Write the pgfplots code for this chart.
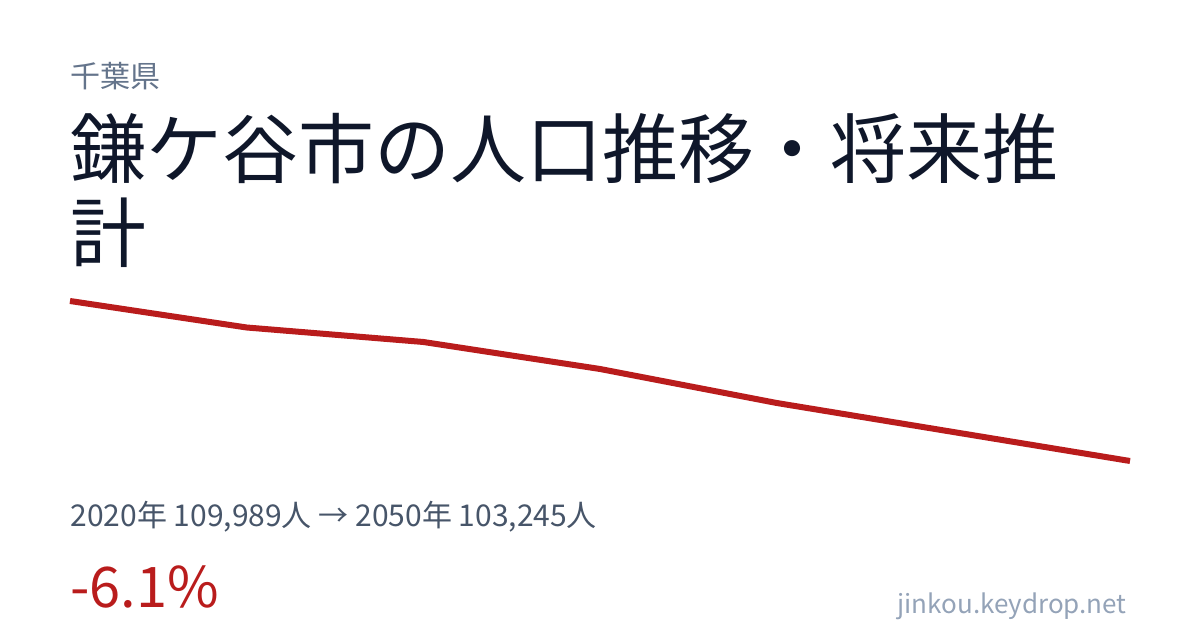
\documentclass[border=0pt]{standalone}
\usepackage{fontspec}
\setmainfont{Noto Sans CJK JP}
\usepackage{pgfplots}
\pgfplotsset{compat=1.18}

\definecolor{titlecol}{HTML}{0F172A}
\definecolor{prefcol}{HTML}{64748B}
\definecolor{statcol}{HTML}{475569}
\definecolor{linered}{HTML}{B91C1C}
\definecolor{sitecol}{HTML}{94A3B8}

% 1 px of the 1200x630 canvas = 0.5pt; positions below are in pt, from the bottom left
\begin{document}
\begin{tikzpicture}
  \fill[white] (0pt,0pt) rectangle (600pt,315pt);

  \node[anchor=base west, inner sep=0, text=prefcol, font=\fontsize{15pt}{17pt}\selectfont]
    at (35pt,271pt) {千葉県};
  \node[anchor=base west, inner sep=0, text=titlecol, font=\fontsize{38pt}{42pt}\selectfont]
    at (35pt,226pt) {鎌ケ谷市の人口推移・将来推};
  \node[anchor=base west, inner sep=0, text=titlecol, font=\fontsize{38pt}{42pt}\selectfont]
    at (35pt,184pt) {計};

  \begin{axis}[
    at={(35pt,84.5pt)}, anchor=south west,
    scale only axis,
    width=530pt, height=80pt,
    xmin=2020, xmax=2050,
    ymin=103245, ymax=109989,
    hide axis,
    clip=false,
  ]
  \addplot[linered, line width=3pt, line join=round] table {
    2020 109989
    2025 108872
    2030 108261
    2035 107123
    2040 105690
    2045 104467
    2050 103245
  };
  \end{axis}

  \node[anchor=base west, inner sep=0, text=statcol, font=\fontsize{15pt}{17pt}\selectfont]
    at (35pt,51.5pt) {2020年 109,989人 → 2050年 103,245人};
  \node[anchor=base west, inner sep=0, text=linered, font=\fontsize{28pt}{32pt}\selectfont]
    at (35pt,11pt) {-6.1\%};
  \node[anchor=base east, inner sep=0, text=sitecol, font=\fontsize{13pt}{15pt}\selectfont]
    at (563.5pt,8pt) {jinkou.keydrop.net};
\end{tikzpicture}
\end{document}
